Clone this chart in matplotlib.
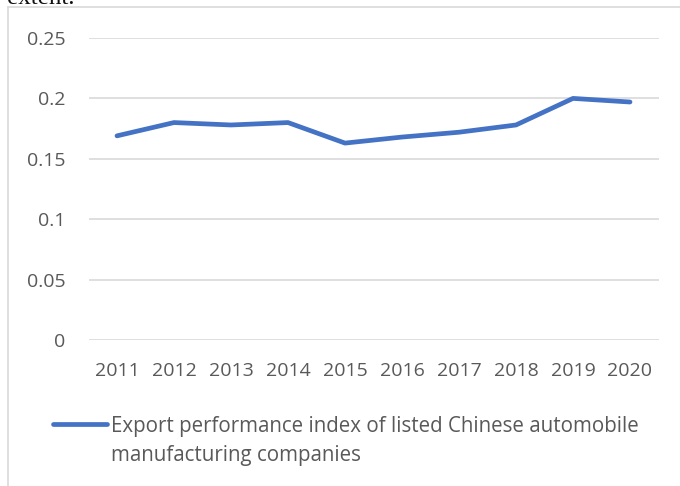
import matplotlib
matplotlib.use("Agg")
import matplotlib.pyplot as plt
from matplotlib.lines import Line2D

years = ["2011", "2012", "2013", "2014", "2015", "2016", "2017", "2018", "2019", "2020"]
export_index = [0.169, 0.180, 0.178, 0.180, 0.163, 0.168, 0.172, 0.178, 0.200, 0.197]
series_name = "Export performance index of listed Chinese automobile\nmanufacturing companies"
y_ticks = [0, 0.05, 0.1, 0.15, 0.2, 0.25]
y_tick_labels = ["0", "0.05", "0.1", "0.15", "0.2", "0.25"]

W, H = 680, 486
fig = plt.figure(figsize=(W / 100, H / 100), dpi=100)
fig.patch.set_facecolor("white")

ax = fig.add_axes([88.5 / W, 1 - 340 / H, 570 / W, 302 / H])
x = list(range(len(years)))
ax.plot(x, export_index, color="#4472C4", linewidth=3.4, solid_capstyle="round",
        solid_joinstyle="round", zorder=3)
ax.set_xlim(-0.5, len(years) - 0.5)
ax.set_ylim(0, 0.25)
ax.set_yticks(y_ticks)
ax.set_yticklabels(y_tick_labels)
ax.set_xticks(x)
ax.set_xticklabels(years)
for s in ax.spines.values():
    s.set_visible(False)
ax.grid(axis="y", color="#d9d9d9", linewidth=1.2)
ax.set_axisbelow(True)
ax.tick_params(axis="both", length=0, labelsize=14, labelcolor="#595959",
               labelfontfamily="Open Sans")
ax.tick_params(axis="y", pad=16.5)
ax.tick_params(axis="x", pad=16)

# frame lines of the embedded chart
fig.add_artist(Line2D([7.5 / W, 7.5 / W], [0, 1 - 7 / H], transform=fig.transFigure,
                      color="#d9d9d9", linewidth=1.2))
fig.add_artist(Line2D([7.5 / W, 1], [1 - 7 / H, 1 - 7 / H], transform=fig.transFigure,
                      color="#d9d9d9", linewidth=1.2))

# clipped text from the surrounding document
fig.text(7 / W, 1 - 3.5 / H, "extent.", fontsize=18, family="Liberation Serif",
         color="#111111", va="baseline", ha="left")

# legend (handle aligned with first line of the label)
fig.add_artist(Line2D([53 / W, 107 / W], [1 - 424 / H, 1 - 424 / H], transform=fig.transFigure,
                      color="#4472C4", linewidth=3.4, solid_capstyle="round"))
for i, line in enumerate(series_name.split("\n")):
    fig.text(111 / W, 1 - (432 + 29 * i) / H, line, fontsize=14.8, family="Open Sans",
             color="#595959", va="baseline", ha="left")

fig.savefig("out.png", dpi=100)
